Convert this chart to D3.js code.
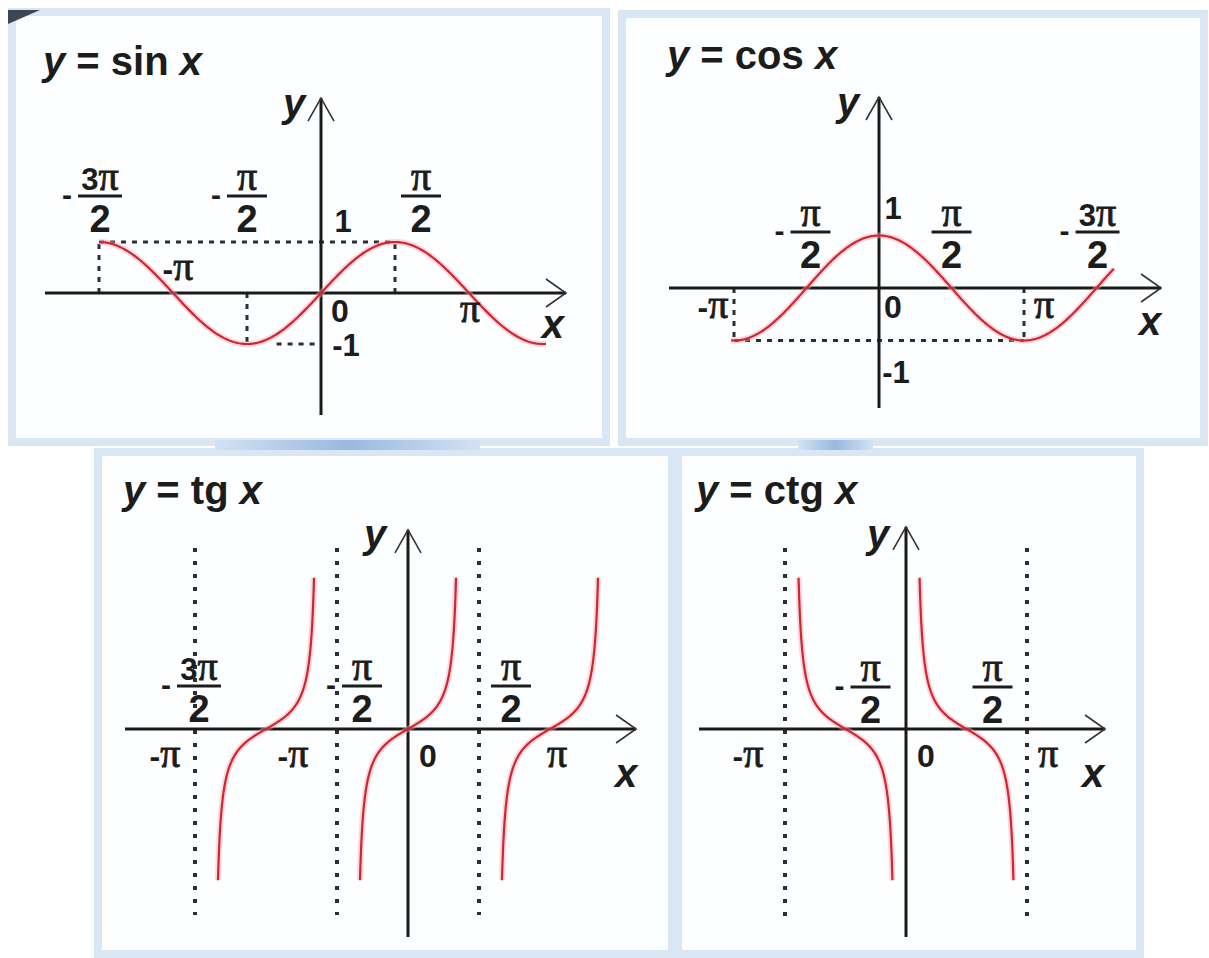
<!DOCTYPE html>
<html>
<head>
<meta charset="utf-8">
<script src="https://cdnjs.cloudflare.com/ajax/libs/d3/7.8.5/d3.min.js"></script>
<style>
    body { margin: 0; background: #ffffff; }
    svg text { font-family: "Liberation Sans", Arial, sans-serif; font-weight: bold; fill: #1c1c1c; }
    svg text tspan.pi { font-family: "Liberation Serif", "Times New Roman", serif; font-weight: normal; stroke: #1c1c1c; stroke-width: 0.9px; }
</style>
</head>
<body>
<div id="chart"></div>
<script>

/*
 * graphs of y = sin x, cos x, tg x, ctg x
 * every x value below is in units of π
 */

// curve domains
const sinDomain = [-1.5, 1.52];
const cosDomain = [-1.02, 1.62];
const tgBranches = [[-1.46, -0.54], [-0.46, 0.46], [0.54, 1.46]];
const ctgBranches = [[-0.96, -0.04], [0.04, 0.96]];

// fraction labels above the x axis
const sinFracAt = [-1.5, -0.5, 0.5];
const sinFracText = ["-3π/2", "-π/2", "π/2"];
const cosFracAt = [-0.5, 0.5, 1.5];
const cosFracText = ["-π/2", "π/2", "-3π/2"];
const tgFracAt = [-1.5, -0.5, 0.5];
const tgFracText = ["-3π/2", "-π/2", "π/2"];
const ctgFracAt = [-0.5, 0.5];
const ctgFracText = ["-π/2", "π/2"];

// plain labels along the x axis
const sinXAt = [-1, 0, 1];
const sinXText = ["-π", "0", "π"];
const cosXAt = [-1, 0, 1];
const cosXText = ["-π", "0", "π"];
const tgXAt = [-1.5, -1, 0, 1];
const tgXText = ["-π", "-π", "0", "π"];
const ctgXAt = [-1, 0, 1];
const ctgXText = ["-π", "0", "π"];

// labels on the y axis
const sinYAt = [1, -1];
const sinYText = ["1", "-1"];
const cosYAt = [1, -1];
const cosYText = ["1", "-1"];

// dashed helper lines [x1, y1, x2, y2]
const sinGuides = [[-1.5, 0, -1.5, 1], [-1.5, 1, 0.5, 1], [0.5, 0, 0.5, 1], [-0.5, 0, -0.5, -1], [-0.3, -1, 0, -1]];
const cosGuides = [[-1, -1, 1, -1], [-1, 0, -1, -1], [1, 0, 1, -1]];

// vertical asymptotes
const tgAsymptotes = [-1.5, -0.5, 0.5];
const ctgAsymptotes = [-1, 1];


// layout of the four boxes (pixels); squeeze narrows the tg / ctg branches like the drawing does
const panels = [
    {
        fn: "sin", f: x => Math.sin(x * Math.PI), branches: [sinDomain], squeeze: 1,
        frame: [12, 12, 594, 430], title: [43, 75],
        ox: 321, oy: 293, kx: 148, ky: 51,
        xAxis: [-1.865, 1.655], yAxis: [-2.39, 3.82],
        frac: {at: sinFracAt, text: sinFracText, dx: [1, 0, 26], dy: -97},
        xLab: {at: sinXAt, text: sinXText, dx: [5, 19, 1], dy: [-13, 29, 29]},
        yLab: {at: sinYAt, text: sinYText, dx: [22, 25], dy: [-10, 12]},
        guides: sinGuides, asym: [], asymY: [0, 0],
        xName: [-13, 45], yName: [-27, 19]
    },
    {
        fn: "cos", f: x => Math.cos(x * Math.PI), branches: [cosDomain], squeeze: 1,
        frame: [622, 14, 582, 428], title: [667, 69],
        ox: 879, oy: 288, kx: 145, ky: 52.5,
        xAxis: [-1.448, 1.945], yAxis: [-2.286, 3.638],
        frac: {at: cosFracAt, text: cosFracText, dx: [4, 0, 1], dy: -56},
        xLab: {at: cosXAt, text: cosXText, dx: [-21, 14, 20], dy: [30, 30, 30]},
        yLab: {at: cosYAt, text: cosYText, dx: [14, 17], dy: [-17, 42]},
        guides: cosGuides, asym: [], asymY: [0, 0],
        xName: [-11, 47], yName: [-31, 19]
    },
    {
        fn: "tg", f: x => Math.tan(x * Math.PI), branches: tgBranches, squeeze: 0.735,
        frame: [98, 452, 574, 502], title: [123, 504],
        ox: 408, oy: 729, kx: 142, ky: 19.1,
        xAxis: [-1.993, 1.606], yAxis: [-10.89, 10.42],
        frac: {at: tgFracAt, text: tgFracText, dx: [4, 25, 32], dy: -43},
        xLab: {at: tgXAt, text: tgXText, dx: [-30, 27, 20, 7], dy: [38, 38, 38, 38]},
        yLab: {at: [], text: [], dx: [], dy: []},
        guides: [], asym: tgAsymptotes, asymY: [-9.74, 9.48],
        xName: [-10, 58], yName: [-33, 18]
    },
    {
        fn: "ctg", f: x => 1 / Math.tan(x * Math.PI), branches: ctgBranches, squeeze: 0.843,
        frame: [678, 452, 462, 502], title: [696, 504],
        ox: 906, oy: 729, kx: 121, ky: 19.1,
        xAxis: [-1.711, 1.645], yAxis: [-10.89, 10.58],
        frac: {at: ctgFracAt, text: ctgFracText, dx: [25, 26], dy: -42},
        xLab: {at: ctgXAt, text: ctgXText, dx: [-37, 20, 21], dy: [38, 38, 38]},
        yLab: {at: [], text: [], dx: [], dy: []},
        guides: [], asym: ctgAsymptotes, asymY: [-10.1, 9.48],
        xName: [-12, 58], yName: [-28, 21]
    }
];


class TrigPanel {
    constructor(svg, cfg) {
        this.svg = svg;
        this.cfg = cfg;
        this.initVis();
    }

    initVis() {
        let vis = this;
        let c = vis.cfg;

        vis.x = d3.scaleLinear().domain([0, 1]).range([c.ox, c.ox + c.kx]);
        vis.y = d3.scaleLinear().domain([0, 1]).range([c.oy, c.oy - c.ky]);

        vis.g = vis.svg.append("g").attr("class", "panel-" + c.fn);

        // box
        vis.g.append("rect")
            .attr("x", c.frame[0]).attr("y", c.frame[1])
            .attr("width", c.frame[2]).attr("height", c.frame[3])
            .attr("fill", "#fdfeff")
            .attr("stroke", "#d9e7f4")
            .attr("stroke-width", 8);

        // title  y = sin x
        let t = vis.g.append("text")
            .attr("x", c.title[0]).attr("y", c.title[1])
            .style("font-size", "40px");
        t.append("tspan").style("font-style", "italic").text("y");
        t.append("tspan").text(" = " + c.fn + " ");
        t.append("tspan").style("font-style", "italic").text("x");

        vis.drawHelpers();
        vis.drawAxes();
        vis.drawCurves();
        vis.drawLabels();
    }

    drawHelpers() {
        let vis = this;
        let c = vis.cfg;

        vis.g.selectAll(".guide")
            .data(c.guides)
            .enter().append("line")
            .attr("class", "guide")
            .attr("x1", d => vis.x(d[0])).attr("y1", d => vis.y(d[1]))
            .attr("x2", d => vis.x(d[2])).attr("y2", d => vis.y(d[3]))
            .attr("stroke", "#2e2e2e")
            .attr("stroke-width", 3)
            .attr("stroke-dasharray", "5,6");

        vis.g.selectAll(".asym")
            .data(c.asym)
            .enter().append("line")
            .attr("class", "asym")
            .attr("x1", d => vis.x(d)).attr("x2", d => vis.x(d))
            .attr("y1", vis.y(c.asymY[1])).attr("y2", vis.y(c.asymY[0]))
            .attr("stroke", "#2e2e2e")
            .attr("stroke-width", 4)
            .attr("stroke-dasharray", "4,9");
    }

    drawAxes() {
        let vis = this;
        let c = vis.cfg;
        let x0 = vis.x(c.xAxis[0]), x1 = vis.x(c.xAxis[1]);
        let y0 = vis.y(c.yAxis[0]), y1 = vis.y(c.yAxis[1]);

        vis.g.append("line")
            .attr("x1", x0).attr("x2", x1).attr("y1", c.oy).attr("y2", c.oy)
            .attr("stroke", "#1a1a1a").attr("stroke-width", 3);
        vis.g.append("line")
            .attr("x1", c.ox).attr("x2", c.ox).attr("y1", y0).attr("y2", y1)
            .attr("stroke", "#1a1a1a").attr("stroke-width", 3);

        // open arrow heads
        vis.g.append("polyline")
            .attr("points", [[x1 - 20, c.oy - 14], [x1, c.oy], [x1 - 20, c.oy + 14]].join(" "))
            .attr("fill", "none").attr("stroke", "#333").attr("stroke-width", 1.6);
        vis.g.append("polyline")
            .attr("points", [[c.ox - 13, y1 + 23], [c.ox, y1], [c.ox + 13, y1 + 23]].join(" "))
            .attr("fill", "none").attr("stroke", "#333").attr("stroke-width", 1.6);

        // axis names
        vis.g.append("text")
            .attr("x", x1 + c.xName[0]).attr("y", c.oy + c.xName[1])
            .attr("text-anchor", "middle")
            .style("font-size", "40px").style("font-style", "italic")
            .text("x");
        vis.g.append("text")
            .attr("x", c.ox + c.yName[0]).attr("y", y1 + c.yName[1])
            .attr("text-anchor", "middle")
            .style("font-size", "40px").style("font-style", "italic")
            .text("y");
    }

    drawCurves() {
        let vis = this;
        let c = vis.cfg;

        let line = d3.line()
            .x(d => vis.x(d[0]))
            .y(d => vis.y(d[1]));

        let data = c.branches.map(b => {
            let mid = (b[0] + b[1]) / 2;
            return d3.range(0, 301).map(i => {
                let xv = b[0] + (b[1] - b[0]) * i / 300;
                return [mid + (xv - mid) * c.squeeze, c.f(xv)];
            });
        });

        // soft halo like the scanned original, then the curve itself
        vis.g.selectAll(".halo")
            .data(data)
            .enter().append("path")
            .attr("class", "halo")
            .attr("d", line)
            .attr("fill", "none")
            .attr("stroke", "#f4a9b0")
            .attr("stroke-opacity", 0.45)
            .attr("stroke-width", 6);

        vis.g.selectAll(".curve")
            .data(data)
            .enter().append("path")
            .attr("class", "curve")
            .attr("d", line)
            .attr("fill", "none")
            .attr("stroke", "#cf2632")
            .attr("stroke-width", 2.2);
    }

    // writes text, π in a serif face
    runs(t, str, size, piSize) {
        str.split(/(π)/).filter(s => s.length).forEach(s => {
            let sp = t.append("tspan").text(s);
            if (s === "π") sp.attr("class", "pi").style("font-size", piSize + "px");
            else sp.style("font-size", size + "px");
        });
    }

    drawLabels() {
        let vis = this;
        let c = vis.cfg;

        // fractions
        c.frac.at.forEach((v, i) => {
            let txt = c.frac.text[i];
            let neg = txt[0] === "-";
            let parts = txt.replace("-", "").split("/");
            let cx = vis.x(v) + c.frac.dx[i];
            let by = c.oy + c.frac.dy;
            let w = parts[0].length > 1 ? 44 : 40;

            vis.g.append("line")
                .attr("x1", cx - w / 2).attr("x2", cx + w / 2)
                .attr("y1", by).attr("y2", by)
                .attr("stroke", "#1c1c1c").attr("stroke-width", 3);

            let num = vis.g.append("text")
                .attr("x", cx).attr("y", by - 6)
                .attr("text-anchor", "middle");
            vis.runs(num, parts[0], 31, 40);

            vis.g.append("text")
                .attr("x", cx).attr("y", by + 36)
                .attr("text-anchor", "middle")
                .style("font-size", "38px")
                .text(parts[1]);

            if (neg) {
                vis.g.append("text")
                    .attr("x", cx - w / 2 - 6).attr("y", by + 9)
                    .attr("text-anchor", "end")
                    .style("font-size", "30px")
                    .text("-");
            }
        });

        // x axis labels
        c.xLab.at.forEach((v, i) => {
            let t = vis.g.append("text")
                .attr("x", vis.x(v) + c.xLab.dx[i])
                .attr("y", c.oy + c.xLab.dy[i])
                .attr("text-anchor", "middle");
            vis.runs(t, c.xLab.text[i], 32, 40);
        });

        // y axis labels
        c.yLab.at.forEach((v, i) => {
            vis.g.append("text")
                .attr("x", c.ox + c.yLab.dx[i])
                .attr("y", vis.y(v) + c.yLab.dy[i])
                .attr("text-anchor", "middle")
                .style("font-size", "31px")
                .text(c.yLab.text[i]);
        });
    }
}


let svg = d3.select("#chart").append("svg")
    .attr("width", 1209)
    .attr("height", 958);

let defs = svg.append("defs");
let grad = defs.append("linearGradient").attr("id", "band");
grad.append("stop").attr("offset", "0%").attr("stop-color", "#d2e2f3");
grad.append("stop").attr("offset", "50%").attr("stop-color", "#9ab8e0");
grad.append("stop").attr("offset", "100%").attr("stop-color", "#d2e2f3");

panels.forEach(p => new TrigPanel(svg, p));

// blue strips showing between the boxes
svg.append("rect").attr("x", 215).attr("y", 440).attr("width", 265).attr("height", 10).attr("fill", "url(#band)");
svg.append("rect").attr("x", 798).attr("y", 440).attr("width", 75).attr("height", 10).attr("fill", "url(#band)");

// dark corner at top left
svg.append("polygon")
    .attr("points", "8,10 40,10 8,24")
    .attr("fill", "#3d4652");

</script>
</body>
</html>
